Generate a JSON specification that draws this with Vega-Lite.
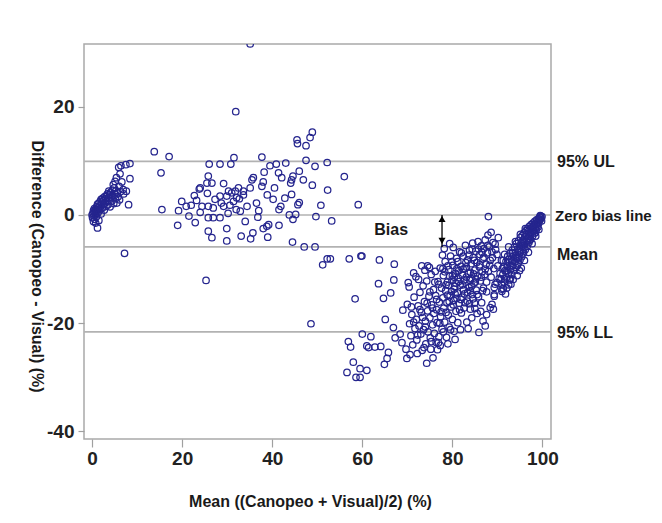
{
"$schema":"https://vega.github.io/schema/vega-lite/v6.json",
"width":467,"height":395,
"autosize":"none",
"padding":{"left":84,"top":44,"right":111,"bottom":84},
"background":"white",
"config":{"view":{"stroke":"#a9a9a9","strokeWidth":1.5},"font":"Liberation Sans"},
"datasets":{"pts":[
{"mean":0.0,"diff":0.0},{"mean":0.1,"diff":-0.5},{"mean":0.2,"diff":0.3},{"mean":0.3,"diff":0.8},{"mean":0.4,"diff":-0.2},{"mean":0.5,"diff":0.5},{"mean":0.5,"diff":1.2},{"mean":0.6,"diff":-0.8},{"mean":0.7,"diff":0.2},{"mean":0.8,"diff":1.0},{"mean":0.9,"diff":0.6},{"mean":1.0,"diff":1.5},{"mean":1.0,"diff":-0.3},{"mean":1.1,"diff":0.9},{"mean":1.2,"diff":2.0},{"mean":1.3,"diff":0.4},{"mean":1.4,"diff":1.3},{"mean":1.5,"diff":-1.0},{"mean":1.5,"diff":2.2},{"mean":1.6,"diff":0.8},{"mean":1.7,"diff":1.7},{"mean":1.8,"diff":2.5},{"mean":1.9,"diff":1.1},{"mean":2.0,"diff":2.9},{"mean":2.0,"diff":0.2},{"mean":2.1,"diff":1.9},{"mean":2.2,"diff":2.4},{"mean":2.3,"diff":1.3},{"mean":2.4,"diff":3.1},{"mean":2.5,"diff":2.0},{"mean":2.6,"diff":2.7},{"mean":2.7,"diff":0.9},{"mean":2.8,"diff":3.4},{"mean":2.9,"diff":2.2},{"mean":3.0,"diff":3.0},{"mean":3.1,"diff":1.6},{"mean":3.2,"diff":3.6},{"mean":3.3,"diff":2.5},{"mean":3.4,"diff":3.9},{"mean":3.5,"diff":1.9},{"mean":3.6,"diff":3.2},{"mean":3.8,"diff":2.7},{"mean":3.9,"diff":3.8},{"mean":4.0,"diff":1.5},{"mean":4.1,"diff":4.2},{"mean":4.2,"diff":3.3},{"mean":4.4,"diff":2.6},{"mean":4.5,"diff":4.6},{"mean":4.6,"diff":3.6},{"mean":4.8,"diff":2.1},{"mean":4.9,"diff":5.0},{"mean":5.0,"diff":3.9},{"mean":5.2,"diff":3.0},{"mean":5.3,"diff":4.5},{"mean":5.4,"diff":6.9},{"mean":5.5,"diff":2.2},{"mean":5.6,"diff":4.1},{"mean":5.8,"diff":3.4},{"mean":6.0,"diff":5.3},{"mean":6.2,"diff":7.6},{"mean":6.3,"diff":4.3},{"mean":6.4,"diff":9.1},{"mean":6.9,"diff":4.7},{"mean":7.2,"diff":-7.1},{"mean":7.5,"diff":9.3},{"mean":8.1,"diff":1.9},{"mean":8.4,"diff":9.5},{"mean":8.4,"diff":6.7},{"mean":1.2,"diff":-2.4},{"mean":0.3,"diff":-1.2},{"mean":0.8,"diff":-1.5},{"mean":5.9,"diff":8.8},{"mean":4.7,"diff":5.6},{"mean":3.7,"diff":4.4},{"mean":6.6,"diff":6.1},{"mean":7.0,"diff":3.9},{"mean":6.1,"diff":2.8},{"mean":5.1,"diff":6.2},{"mean":7.6,"diff":4.4},
{"mean":13.8,"diff":11.7},{"mean":17.1,"diff":10.8},{"mean":15.3,"diff":7.8},{"mean":15.5,"diff":1.0},{"mean":19.2,"diff":0.8},{"mean":19.9,"diff":2.5},{"mean":19.0,"diff":-1.9},{"mean":20.9,"diff":1.6},{"mean":22.0,"diff":1.8},{"mean":22.9,"diff":-1.4},{"mean":22.7,"diff":3.6},{"mean":23.8,"diff":4.8},{"mean":24.0,"diff":0.5},{"mean":25.3,"diff":-12.1},
{"mean":35.1,"diff":31.6},{"mean":31.9,"diff":19.1},{"mean":45.5,"diff":13.9},{"mean":45.6,"diff":13.2},{"mean":47.5,"diff":12.8},{"mean":48.4,"diff":14.3},{"mean":48.9,"diff":15.3},{"mean":31.5,"diff":10.6},{"mean":37.7,"diff":10.7},{"mean":26.0,"diff":9.4},{"mean":28.4,"diff":9.4},{"mean":30.8,"diff":9.4},{"mean":39.5,"diff":9.1},{"mean":40.9,"diff":9.4},{"mean":47.5,"diff":10.1},{"mean":49.5,"diff":9.0},{"mean":52.2,"diff":9.7},{"mean":56.0,"diff":7.1},{"mean":59.1,"diff":1.9},
{"mean":24.0,"diff":5.0},{"mean":25.5,"diff":5.9},{"mean":25.8,"diff":7.2},{"mean":26.6,"diff":5.9},{"mean":25.6,"diff":4.0},{"mean":27.3,"diff":2.9},{"mean":28.4,"diff":3.5},{"mean":29.2,"diff":5.8},
{"mean":24.4,"diff":1.6},{"mean":25.8,"diff":1.6},{"mean":26.9,"diff":1.3},{"mean":29.2,"diff":1.6},{"mean":30.6,"diff":1.8},{"mean":31.4,"diff":2.5},{"mean":32.1,"diff":3.2},{"mean":32.7,"diff":3.0},{"mean":32.5,"diff":5.0},{"mean":33.6,"diff":4.4},{"mean":35.1,"diff":5.0},{"mean":35.5,"diff":6.5},{"mean":35.8,"diff":6.9},{"mean":37.7,"diff":5.3},{"mean":38.0,"diff":6.1},{"mean":38.2,"diff":7.9},{"mean":42.1,"diff":6.9},{"mean":41.4,"diff":7.8},
{"mean":29.9,"diff":3.5},{"mean":31.0,"diff":4.1},{"mean":31.8,"diff":4.4},{"mean":30.3,"diff":4.4},{"mean":34.4,"diff":1.6},{"mean":32.9,"diff":0.7},{"mean":32.0,"diff":1.0},
{"mean":25.8,"diff":-0.5},{"mean":26.9,"diff":-0.5},{"mean":28.4,"diff":-0.5},{"mean":25.8,"diff":-3.0},{"mean":26.6,"diff":-4.2},{"mean":29.9,"diff":-2.5},{"mean":29.9,"diff":-4.8},
{"mean":33.1,"diff":-3.9},{"mean":35.2,"diff":-4.4},{"mean":35.7,"diff":-3.3},{"mean":38.0,"diff":-2.5},{"mean":38.8,"diff":-2.1},{"mean":39.2,"diff":-1.8},{"mean":39.0,"diff":-4.1},{"mean":41.5,"diff":-1.9},
{"mean":41.5,"diff":1.0},{"mean":41.9,"diff":1.6},{"mean":43.8,"diff":0.0},{"mean":44.6,"diff":-0.8},{"mean":45.2,"diff":0.1},{"mean":45.7,"diff":1.9},{"mean":46.0,"diff":2.3},{"mean":44.3,"diff":3.8},{"mean":44.3,"diff":6.5},{"mean":44.6,"diff":7.2},{"mean":46.0,"diff":8.1},{"mean":46.9,"diff":6.5},{"mean":48.9,"diff":5.5},{"mean":44.1,"diff":5.9},
{"mean":44.5,"diff":-5.0},{"mean":47.1,"diff":-5.9},{"mean":49.5,"diff":-5.9},{"mean":50.8,"diff":1.8},{"mean":49.7,"diff":-0.3},{"mean":52.3,"diff":4.6},{"mean":53.2,"diff":-1.1},
{"mean":57.1,"diff":-8.1},{"mean":59.7,"diff":-7.6},{"mean":51.2,"diff":-9.2},{"mean":52.2,"diff":-8.1},{"mean":48.6,"diff":-20.1},{"mean":52.9,"diff":-8.1},{"mean":63.8,"diff":-8.3},{"mean":67.1,"diff":-9.1},
{"mean":33.6,"diff":3.7},{"mean":36.5,"diff":2.2},{"mean":37.0,"diff":0.8},{"mean":40.2,"diff":2.9},{"mean":42.8,"diff":3.1},{"mean":30.2,"diff":0.3},{"mean":28.7,"diff":2.2},{"mean":23.2,"diff":2.7},{"mean":21.5,"diff":-0.2},{"mean":34.0,"diff":-1.2},{"mean":36.8,"diff":-0.4},{"mean":40.5,"diff":5.0},{"mean":43.0,"diff":9.6},{"mean":38.9,"diff":3.7},
{"mean":58.4,"diff":-15.5},{"mean":56.9,"diff":-23.4},{"mean":57.4,"diff":-24.4},{"mean":58.0,"diff":-27.2},{"mean":56.6,"diff":-29.1},{"mean":58.6,"diff":-30.0},{"mean":59.5,"diff":-30.0},{"mean":59.5,"diff":-28.4},{"mean":61.0,"diff":-28.7},{"mean":61.4,"diff":-24.5},{"mean":61.9,"diff":-22.5},{"mean":62.8,"diff":-24.4},{"mean":64.1,"diff":-24.3},{"mean":63.6,"diff":-12.7},{"mean":64.7,"diff":-15.4},{"mean":66.3,"diff":-14.4},{"mean":65.1,"diff":-19.3},{"mean":66.9,"diff":-20.8},{"mean":64.9,"diff":-27.6},{"mean":65.5,"diff":-26.5},{"mean":65.8,"diff":-25.4},{"mean":67.3,"diff":-22.7},{"mean":68.4,"diff":-22.0},{"mean":68.8,"diff":-23.6},{"mean":69.7,"diff":-24.8},{"mean":69.9,"diff":-26.5},{"mean":69.0,"diff":-17.6},{"mean":70.0,"diff":-16.5},{"mean":70.4,"diff":-13.3},{"mean":71.4,"diff":-10.7},{"mean":72.2,"diff":-25.6},{"mean":74.3,"diff":-27.4},{"mean":75.7,"diff":-26.4},{"mean":75.2,"diff":-24.8},{"mean":77.3,"diff":-24.1},{"mean":76.4,"diff":-23.5},{"mean":72.5,"diff":-11.9},{"mean":74.5,"diff":-9.4},{"mean":73.2,"diff":-9.4},{"mean":74.9,"diff":-9.7},{"mean":59.9,"diff":-7.6},{"mean":61.0,"diff":-24.2},{"mean":60.0,"diff":-22.0},{"mean":67.0,"diff":-12.0},
{"mean":70.5,"diff":-20.1},{"mean":70.8,"diff":-22.3},{"mean":71.0,"diff":-18.4},{"mean":71.2,"diff":-24.0},{"mean":71.5,"diff":-15.2},{"mean":71.7,"diff":-21.0},{"mean":72.0,"diff":-19.3},{"mean":72.1,"diff":-23.1},{"mean":72.4,"diff":-16.8},{"mean":72.6,"diff":-20.5},{"mean":72.8,"diff":-14.3},{"mean":73.0,"diff":-22.0},{"mean":73.1,"diff":-18.0},{"mean":73.3,"diff":-25.0},{"mean":73.5,"diff":-13.1},{"mean":73.6,"diff":-21.2},{"mean":73.8,"diff":-16.0},{"mean":74.0,"diff":-19.6},{"mean":74.1,"diff":-23.8},{"mean":74.3,"diff":-12.2},{"mean":74.5,"diff":-17.7},{"mean":74.6,"diff":-21.6},{"mean":74.8,"diff":-15.0},{"mean":75.0,"diff":-19.0},{"mean":75.1,"diff":-22.7},{"mean":75.3,"diff":-11.0},{"mean":75.4,"diff":-16.6},{"mean":75.6,"diff":-20.3},{"mean":75.8,"diff":-13.8},{"mean":75.9,"diff":-18.2},{"mean":76.0,"diff":-21.9},{"mean":70.2,"diff":-12.5},{"mean":71.9,"diff":-11.4},{"mean":73.9,"diff":-10.2},{"mean":76.2,"diff":-10.4},{"mean":70.6,"diff":-25.8},
{"mean":76.3,"diff":-14.9},{"mean":76.5,"diff":-17.5},{"mean":76.6,"diff":-19.9},{"mean":76.8,"diff":-12.3},{"mean":77.0,"diff":-22.5},{"mean":77.1,"diff":-16.1},{"mean":77.3,"diff":-9.8},{"mean":77.4,"diff":-18.8},{"mean":77.6,"diff":-13.5},{"mean":77.7,"diff":-21.1},{"mean":77.9,"diff":-15.3},{"mean":78.0,"diff":-11.2},{"mean":78.1,"diff":-17.2},{"mean":78.3,"diff":-19.8},{"mean":78.4,"diff":-8.6},{"mean":78.5,"diff":-14.0},{"mean":78.7,"diff":-22.6},{"mean":78.8,"diff":-16.2},{"mean":78.9,"diff":-12.4},{"mean":79.1,"diff":-18.5},{"mean":79.2,"diff":-10.1},{"mean":79.3,"diff":-20.7},{"mean":79.5,"diff":-14.9},{"mean":79.6,"diff":-7.6},{"mean":79.7,"diff":-17.0},{"mean":79.9,"diff":-12.0},{"mean":80.0,"diff":-19.3},{"mean":80.1,"diff":-9.3},{"mean":80.3,"diff":-15.8},{"mean":80.4,"diff":-21.5},{"mean":80.5,"diff":-13.2},{"mean":80.7,"diff":-10.8},{"mean":80.8,"diff":-17.8},{"mean":80.9,"diff":-8.0},{"mean":81.1,"diff":-14.4},{"mean":81.2,"diff":-19.9},{"mean":81.3,"diff":-11.6},{"mean":81.5,"diff":-16.3},{"mean":81.6,"diff":-6.8},{"mean":81.7,"diff":-13.0},{"mean":81.9,"diff":-9.5},{"mean":82.0,"diff":-18.1},{"mean":76.7,"diff":-24.9},{"mean":77.8,"diff":-7.4},{"mean":79.0,"diff":-23.8},{"mean":80.6,"diff":-23.0},{"mean":81.8,"diff":-21.2},{"mean":78.2,"diff":-6.2},{"mean":79.4,"diff":-5.3},{"mean":80.2,"diff":-6.0},
{"mean":78.6,"diff":-12.9},{"mean":79.8,"diff":-14.1},{"mean":80.8,"diff":-12.6},{"mean":81.4,"diff":-10.3},{"mean":79.0,"diff":-9.4},{"mean":80.4,"diff":-11.5},{"mean":82.3,"diff":-12.9},{"mean":83.1,"diff":-9.6},{"mean":83.9,"diff":-12.1},{"mean":84.7,"diff":-10.9},{"mean":85.1,"diff":-12.4},{"mean":84.0,"diff":-14.0},{"mean":82.7,"diff":-14.6},{"mean":81.0,"diff":-15.4},{"mean":79.3,"diff":-16.0},{"mean":77.5,"diff":-17.9},
{"mean":78.3,"diff":-10.5},{"mean":78.9,"diff":-14.8},{"mean":79.4,"diff":-11.3},{"mean":79.9,"diff":-8.6},{"mean":80.2,"diff":-16.6},{"mean":80.6,"diff":-14.6},{"mean":81.0,"diff":-9.9},{"mean":81.4,"diff":-12.3},{"mean":81.9,"diff":-15.6},{"mean":82.0,"diff":-7.0},{"mean":82.4,"diff":-10.0},{"mean":82.8,"diff":-16.2},{"mean":83.1,"diff":-11.5},{"mean":83.4,"diff":-14.3},{"mean":83.7,"diff":-7.4},{"mean":84.0,"diff":-10.6},{"mean":84.3,"diff":-13.1},{"mean":84.6,"diff":-15.5},{"mean":84.9,"diff":-8.4},{"mean":85.2,"diff":-11.8},{"mean":85.5,"diff":-14.7},{"mean":85.8,"diff":-6.3},{"mean":86.1,"diff":-9.2},{"mean":86.4,"diff":-11.5},{"mean":86.7,"diff":-14.0},{"mean":87.0,"diff":-7.8},{"mean":87.3,"diff":-10.0},{"mean":87.6,"diff":-12.4},{"mean":87.9,"diff":-5.6},{"mean":88.3,"diff":-9.3},{"mean":88.6,"diff":-11.5},{"mean":88.9,"diff":-7.9},{"mean":89.2,"diff":-9.9},{"mean":89.6,"diff":-6.4},{"mean":80.0,"diff":-11.2},{"mean":81.2,"diff":-8.6},{"mean":82.6,"diff":-12.0},{"mean":83.8,"diff":-16.4},{"mean":85.0,"diff":-17.3},{"mean":86.6,"diff":-6.9},{"mean":84.4,"diff":-6.3},{"mean":83.0,"diff":-8.8},{"mean":81.6,"diff":-17.5},{"mean":80.4,"diff":-13.7},{"mean":79.2,"diff":-13.0},
{"mean":77.0,"diff":-12.8},{"mean":76.5,"diff":-15.6},{"mean":75.6,"diff":-17.2},{"mean":75.0,"diff":-14.2},{"mean":74.4,"diff":-16.3},{"mean":74.0,"diff":-20.7},{"mean":73.4,"diff":-18.9},{"mean":72.8,"diff":-17.5},{"mean":77.2,"diff":-20.0},{"mean":78.0,"diff":-21.6},{"mean":78.6,"diff":-18.0},{"mean":79.6,"diff":-21.2},{"mean":76.1,"diff":-12.4},{"mean":77.9,"diff":-9.9},{"mean":76.9,"diff":-23.6},{"mean":72.3,"diff":-22.2},{"mean":71.4,"diff":-19.8},{"mean":70.9,"diff":-17.0},{"mean":73.7,"diff":-24.5},{"mean":75.3,"diff":-23.4},
{"mean":82.1,"diff":-15.2},{"mean":82.2,"diff":-11.1},{"mean":82.4,"diff":-7.6},{"mean":82.5,"diff":-13.8},{"mean":82.6,"diff":-17.2},{"mean":82.8,"diff":-9.9},{"mean":82.9,"diff":-5.6},{"mean":83.0,"diff":-12.4},{"mean":83.2,"diff":-19.8},{"mean":83.3,"diff":-15.9},{"mean":83.4,"diff":-8.3},{"mean":83.6,"diff":-10.8},{"mean":83.7,"diff":-13.4},{"mean":83.8,"diff":-6.5},{"mean":84.0,"diff":-17.4},{"mean":84.1,"diff":-11.7},{"mean":84.2,"diff":-9.0},{"mean":84.4,"diff":-14.7},{"mean":84.5,"diff":-5.2},{"mean":84.6,"diff":-7.9},{"mean":84.8,"diff":-12.6},{"mean":84.9,"diff":-16.3},{"mean":85.0,"diff":-10.2},{"mean":85.2,"diff":-6.7},{"mean":85.3,"diff":-13.9},{"mean":85.4,"diff":-8.8},{"mean":85.6,"diff":-11.3},{"mean":85.7,"diff":-4.9},{"mean":85.8,"diff":-15.1},{"mean":86.0,"diff":-9.6},{"mean":86.1,"diff":-7.3},{"mean":86.2,"diff":-12.2},{"mean":86.4,"diff":-5.7},{"mean":86.5,"diff":-16.2},{"mean":86.6,"diff":-10.5},{"mean":86.8,"diff":-8.1},{"mean":86.9,"diff":-13.5},{"mean":87.0,"diff":-6.2},{"mean":87.2,"diff":-11.0},{"mean":87.3,"diff":-4.6},{"mean":87.5,"diff":-9.1},{"mean":87.6,"diff":-14.2},{"mean":87.8,"diff":-7.0},{"mean":87.9,"diff":-3.7},{"mean":88.0,"diff":-10.4},{"mean":88.2,"diff":-5.9},{"mean":88.4,"diff":-8.4},{"mean":88.6,"diff":-3.2},{"mean":88.8,"diff":-6.8},{"mean":89.0,"diff":-5.1},{"mean":89.5,"diff":-5.4},{"mean":90.2,"diff":-4.2},{"mean":89.9,"diff":-7.3},{"mean":83.5,"diff":-21.0},{"mean":84.3,"diff":-19.0},{"mean":85.5,"diff":-18.2},{"mean":86.3,"diff":-17.8},{"mean":88.0,"diff":-0.3},
{"mean":85.9,"diff":-21.7},{"mean":87.3,"diff":-20.5},{"mean":86.8,"diff":-19.6},{"mean":87.6,"diff":-18.4},{"mean":88.4,"diff":-17.1},{"mean":88.8,"diff":-16.5},{"mean":89.1,"diff":-17.4},{"mean":89.3,"diff":-15.0},{"mean":89.3,"diff":-13.4},{"mean":89.9,"diff":-12.5},{"mean":91.0,"diff":-13.7},{"mean":90.8,"diff":-11.9},{"mean":89.5,"diff":-12.8},{"mean":89.3,"diff":-14.7},{"mean":91.0,"diff":-14.1},{"mean":91.3,"diff":-13.6},
{"mean":90.6,"diff":-10.8},{"mean":90.9,"diff":-12.8},{"mean":91.2,"diff":-11.0},{"mean":91.4,"diff":-9.6},{"mean":91.5,"diff":-12.4},{"mean":91.7,"diff":-10.3},{"mean":91.9,"diff":-8.6},{"mean":92.0,"diff":-11.6},{"mean":92.2,"diff":-9.5},{"mean":92.3,"diff":-7.6},{"mean":92.4,"diff":-10.9},{"mean":92.6,"diff":-8.8},{"mean":92.7,"diff":-12.0},{"mean":92.8,"diff":-7.1},{"mean":92.9,"diff":-10.1},{"mean":93.1,"diff":-8.2},{"mean":93.2,"diff":-11.0},{"mean":93.3,"diff":-6.5},{"mean":93.4,"diff":-9.4},{"mean":93.6,"diff":-7.6},{"mean":93.7,"diff":-10.3},{"mean":93.8,"diff":-5.9},{"mean":93.9,"diff":-8.7},{"mean":94.0,"diff":-6.9},{"mean":94.1,"diff":-9.7},{"mean":94.2,"diff":-5.3},{"mean":94.3,"diff":-8.0},{"mean":94.5,"diff":-6.3},{"mean":94.6,"diff":-9.0},{"mean":94.7,"diff":-4.8},{"mean":94.8,"diff":-7.4},{"mean":94.9,"diff":-5.7},{"mean":95.0,"diff":-8.3},{"mean":95.1,"diff":-4.2},{"mean":95.2,"diff":-6.8},{"mean":95.3,"diff":-5.1},{"mean":95.4,"diff":-7.7},{"mean":95.5,"diff":-3.8},{"mean":95.6,"diff":-6.1},{"mean":95.7,"diff":-4.6},{"mean":95.8,"diff":-7.0},{"mean":95.9,"diff":-3.3},{"mean":96.0,"diff":-5.5},{"mean":96.1,"diff":-4.0},{"mean":96.2,"diff":-6.4},{"mean":96.3,"diff":-2.9},{"mean":96.4,"diff":-4.9},{"mean":96.5,"diff":-3.5},{"mean":96.6,"diff":-5.8},{"mean":96.7,"diff":-2.5},{"mean":96.8,"diff":-4.3},{"mean":96.9,"diff":-3.0},{"mean":97.0,"diff":-5.1},{"mean":97.1,"diff":-2.1},{"mean":97.2,"diff":-3.8},{"mean":97.3,"diff":-2.6},{"mean":97.4,"diff":-4.5},{"mean":97.5,"diff":-1.8},{"mean":97.6,"diff":-3.2},{"mean":97.7,"diff":-2.3},{"mean":97.8,"diff":-3.9},{"mean":97.9,"diff":-1.5},{"mean":98.0,"diff":-2.8},{"mean":98.1,"diff":-1.9},{"mean":98.2,"diff":-3.3},{"mean":98.3,"diff":-1.2},{"mean":98.4,"diff":-2.4},{"mean":98.5,"diff":-1.6},{"mean":98.6,"diff":-2.8},{"mean":98.7,"diff":-0.9},{"mean":98.8,"diff":-2.0},{"mean":98.9,"diff":-1.3},{"mean":99.0,"diff":-2.2},{"mean":99.1,"diff":-0.7},{"mean":99.2,"diff":-1.5},{"mean":99.3,"diff":-1.0},{"mean":99.4,"diff":-0.4},{"mean":99.5,"diff":-0.8},{"mean":99.6,"diff":-0.2},{"mean":99.7,"diff":-0.6},{"mean":99.8,"diff":-1.1},{"mean":99.9,"diff":-0.3},{"mean":92.1,"diff":-13.5},{"mean":91.8,"diff":-14.6},{"mean":93.0,"diff":-12.8},{"mean":94.4,"diff":-11.2},{"mean":95.3,"diff":-9.8},
{"mean":92.5,"diff":-12.9},{"mean":93.5,"diff":-11.9},{"mean":94.9,"diff":-10.3},{"mean":96.0,"diff":-8.4},{"mean":96.9,"diff":-6.9},{"mean":97.7,"diff":-5.3},{"mean":98.5,"diff":-3.9},{"mean":99.2,"diff":-2.7},{"mean":90.1,"diff":-9.4},{"mean":90.9,"diff":-8.4},{"mean":91.6,"diff":-7.3},{"mean":92.5,"diff":-5.9},
{"mean":91.1,"diff":-9.9},{"mean":91.6,"diff":-11.8},{"mean":92.1,"diff":-10.3},{"mean":92.5,"diff":-8.2},{"mean":93.0,"diff":-9.6},{"mean":93.5,"diff":-8.4},{"mean":94.0,"diff":-7.9},{"mean":94.4,"diff":-9.4},{"mean":94.9,"diff":-6.6},{"mean":95.4,"diff":-5.6},{"mean":95.9,"diff":-6.0},{"mean":96.4,"diff":-3.9},{"mean":96.9,"diff":-4.4},{"mean":97.3,"diff":-3.4},{"mean":97.8,"diff":-2.9},{"mean":98.2,"diff":-2.1},{"mean":98.7,"diff":-1.6},{"mean":99.1,"diff":-1.3},{"mean":99.5,"diff":-0.1},{"mean":93.3,"diff":-7.1},{"mean":92.9,"diff":-11.7},{"mean":94.6,"diff":-8.0},{"mean":95.8,"diff":-5.1},{"mean":97.1,"diff":-4.7},{"mean":98.4,"diff":-3.3},{"mean":90.4,"diff":-11.7},{"mean":91.3,"diff":-8.4},{"mean":94.0,"diff":-4.9},{"mean":95.1,"diff":-3.6},{"mean":96.2,"diff":-2.5}
]},
"layer":[
{"data":{"values":[{"diff":9.9},{"diff":0},{"diff":-5.9},{"diff":-21.6}]},
 "mark":{"type":"rule","color":"#b2b2b2","strokeWidth":1.6},
 "encoding":{"y":{"field":"diff","type":"quantitative","scale":{"domain":[-41.4,31.6],"nice":false,"zero":false}}}},
{"data":{"name":"pts"},
 "mark":{"type":"point","shape":"circle","filled":false,"color":"#25258e","size":42,"strokeWidth":1.25,"opacity":1,"clip":true},
 "encoding":{
  "x":{"field":"mean","type":"quantitative","scale":{"domain":[-1.8,101.9],"nice":false,"zero":false},
   "axis":{"values":[0,20,40,60,80,100],"title":"Mean ((Canopeo + Visual)/2) (%)","titleFont":"Liberation Sans","titleFontSize":16,"titleFontWeight":"bold","titleColor":"#1a1a1a","titleX":226,"titleY":67,"titleAlign":"center","titleBaseline":"alphabetic","labelFont":"Liberation Sans","labelFontSize":19,"labelFontWeight":"bold","labelColor":"#222222","labelPadding":2,"tickSize":8,"tickColor":"#a0a0a0","tickWidth":1.2,"domain":false,"grid":false,"labelFlush":false}},
  "y":{"field":"diff","type":"quantitative","scale":{"domain":[-41.4,31.6],"nice":false,"zero":false},
   "axis":{"values":[-40,-20,0,20],"labelExpr":"replace(datum.label, '\u2212', '-')","title":"Difference (Canopeo - Visual) (%)","titleAngle":90,"titleX":-48,"titleY":222,"titleAlign":"center","titleBaseline":"middle","titleFont":"Liberation Sans","titleFontSize":16,"titleFontWeight":"bold","titleColor":"#1a1a1a","labelFont":"Liberation Sans","labelFontSize":19,"labelFontWeight":"bold","labelColor":"#222222","labelPadding":4,"tickSize":6,"tickColor":"#a0a0a0","tickWidth":1.2,"domain":false,"grid":false,"labelFlush":false}}}},
{"data":{"values":[{"label":"95% UL","diff":9.9},{"label":"95% LL","diff":-21.6}]},
 "mark":{"type":"text","align":"left","baseline":"middle","dx":6,"dy":1,"fontSize":16,"fontWeight":"bold","color":"#1a1a1a","clip":false},
 "encoding":{"x":{"datum":101.9,"type":"quantitative","scale":{"domain":[-1.8,101.9],"nice":false,"zero":false}},
  "y":{"field":"diff","type":"quantitative","scale":{"domain":[-41.4,31.6],"nice":false,"zero":false}},
  "text":{"field":"label"}}},
{"data":{"values":[{"label":"Zero bias line","diff":0}]},
 "mark":{"type":"text","align":"left","baseline":"middle","dx":4,"dy":1,"fontSize":15,"fontWeight":"bold","color":"#1a1a1a","clip":false},
 "encoding":{"x":{"datum":101.9,"type":"quantitative","scale":{"domain":[-1.8,101.9],"nice":false,"zero":false}},
  "y":{"field":"diff","type":"quantitative","scale":{"domain":[-41.4,31.6],"nice":false,"zero":false}},
  "text":{"field":"label"}}},
{"data":{"values":[{"label":"Mean","diff":-5.9}]},
 "mark":{"type":"text","align":"left","baseline":"middle","dx":6,"dy":8,"fontSize":16,"fontWeight":"bold","color":"#1a1a1a","clip":false},
 "encoding":{"x":{"datum":101.9,"type":"quantitative","scale":{"domain":[-1.8,101.9],"nice":false,"zero":false}},
  "y":{"field":"diff","type":"quantitative","scale":{"domain":[-41.4,31.6],"nice":false,"zero":false}},
  "text":{"field":"label"}}},
{"data":{"values":[{"label":"Bias","mean":66.4,"diff":-2.8}]},
 "mark":{"type":"text","align":"center","baseline":"middle","fontSize":16,"fontWeight":"bold","color":"#1a1a1a"},
 "encoding":{"x":{"field":"mean","type":"quantitative","scale":{"domain":[-1.8,101.9],"nice":false,"zero":false}},
  "y":{"field":"diff","type":"quantitative","scale":{"domain":[-41.4,31.6],"nice":false,"zero":false}},
  "text":{"field":"label"}}},
{"data":{"values":[{"mean":77.7,"from":0,"to":-5.9}]},
 "mark":{"type":"rule","color":"#000000","strokeWidth":1.3},
 "encoding":{"x":{"field":"mean","type":"quantitative","scale":{"domain":[-1.8,101.9],"nice":false,"zero":false}},
  "y":{"field":"from","type":"quantitative","scale":{"domain":[-41.4,31.6],"nice":false,"zero":false}},
  "y2":{"field":"to"}}},
{"data":{"values":[{"mean":77.7,"from":0}]},
 "mark":{"type":"point","shape":"triangle-up","filled":true,"color":"#000000","size":50,"opacity":1,"yOffset":4},
 "encoding":{"x":{"field":"mean","type":"quantitative","scale":{"domain":[-1.8,101.9],"nice":false,"zero":false}},
  "y":{"field":"from","type":"quantitative","scale":{"domain":[-41.4,31.6],"nice":false,"zero":false}}}},
{"data":{"values":[{"mean":77.7,"to":-5.9}]},
 "mark":{"type":"point","shape":"triangle-down","filled":true,"color":"#000000","size":50,"opacity":1,"yOffset":-6},
 "encoding":{"x":{"field":"mean","type":"quantitative","scale":{"domain":[-1.8,101.9],"nice":false,"zero":false}},
  "y":{"field":"to","type":"quantitative","scale":{"domain":[-41.4,31.6],"nice":false,"zero":false}}}}
]
}
